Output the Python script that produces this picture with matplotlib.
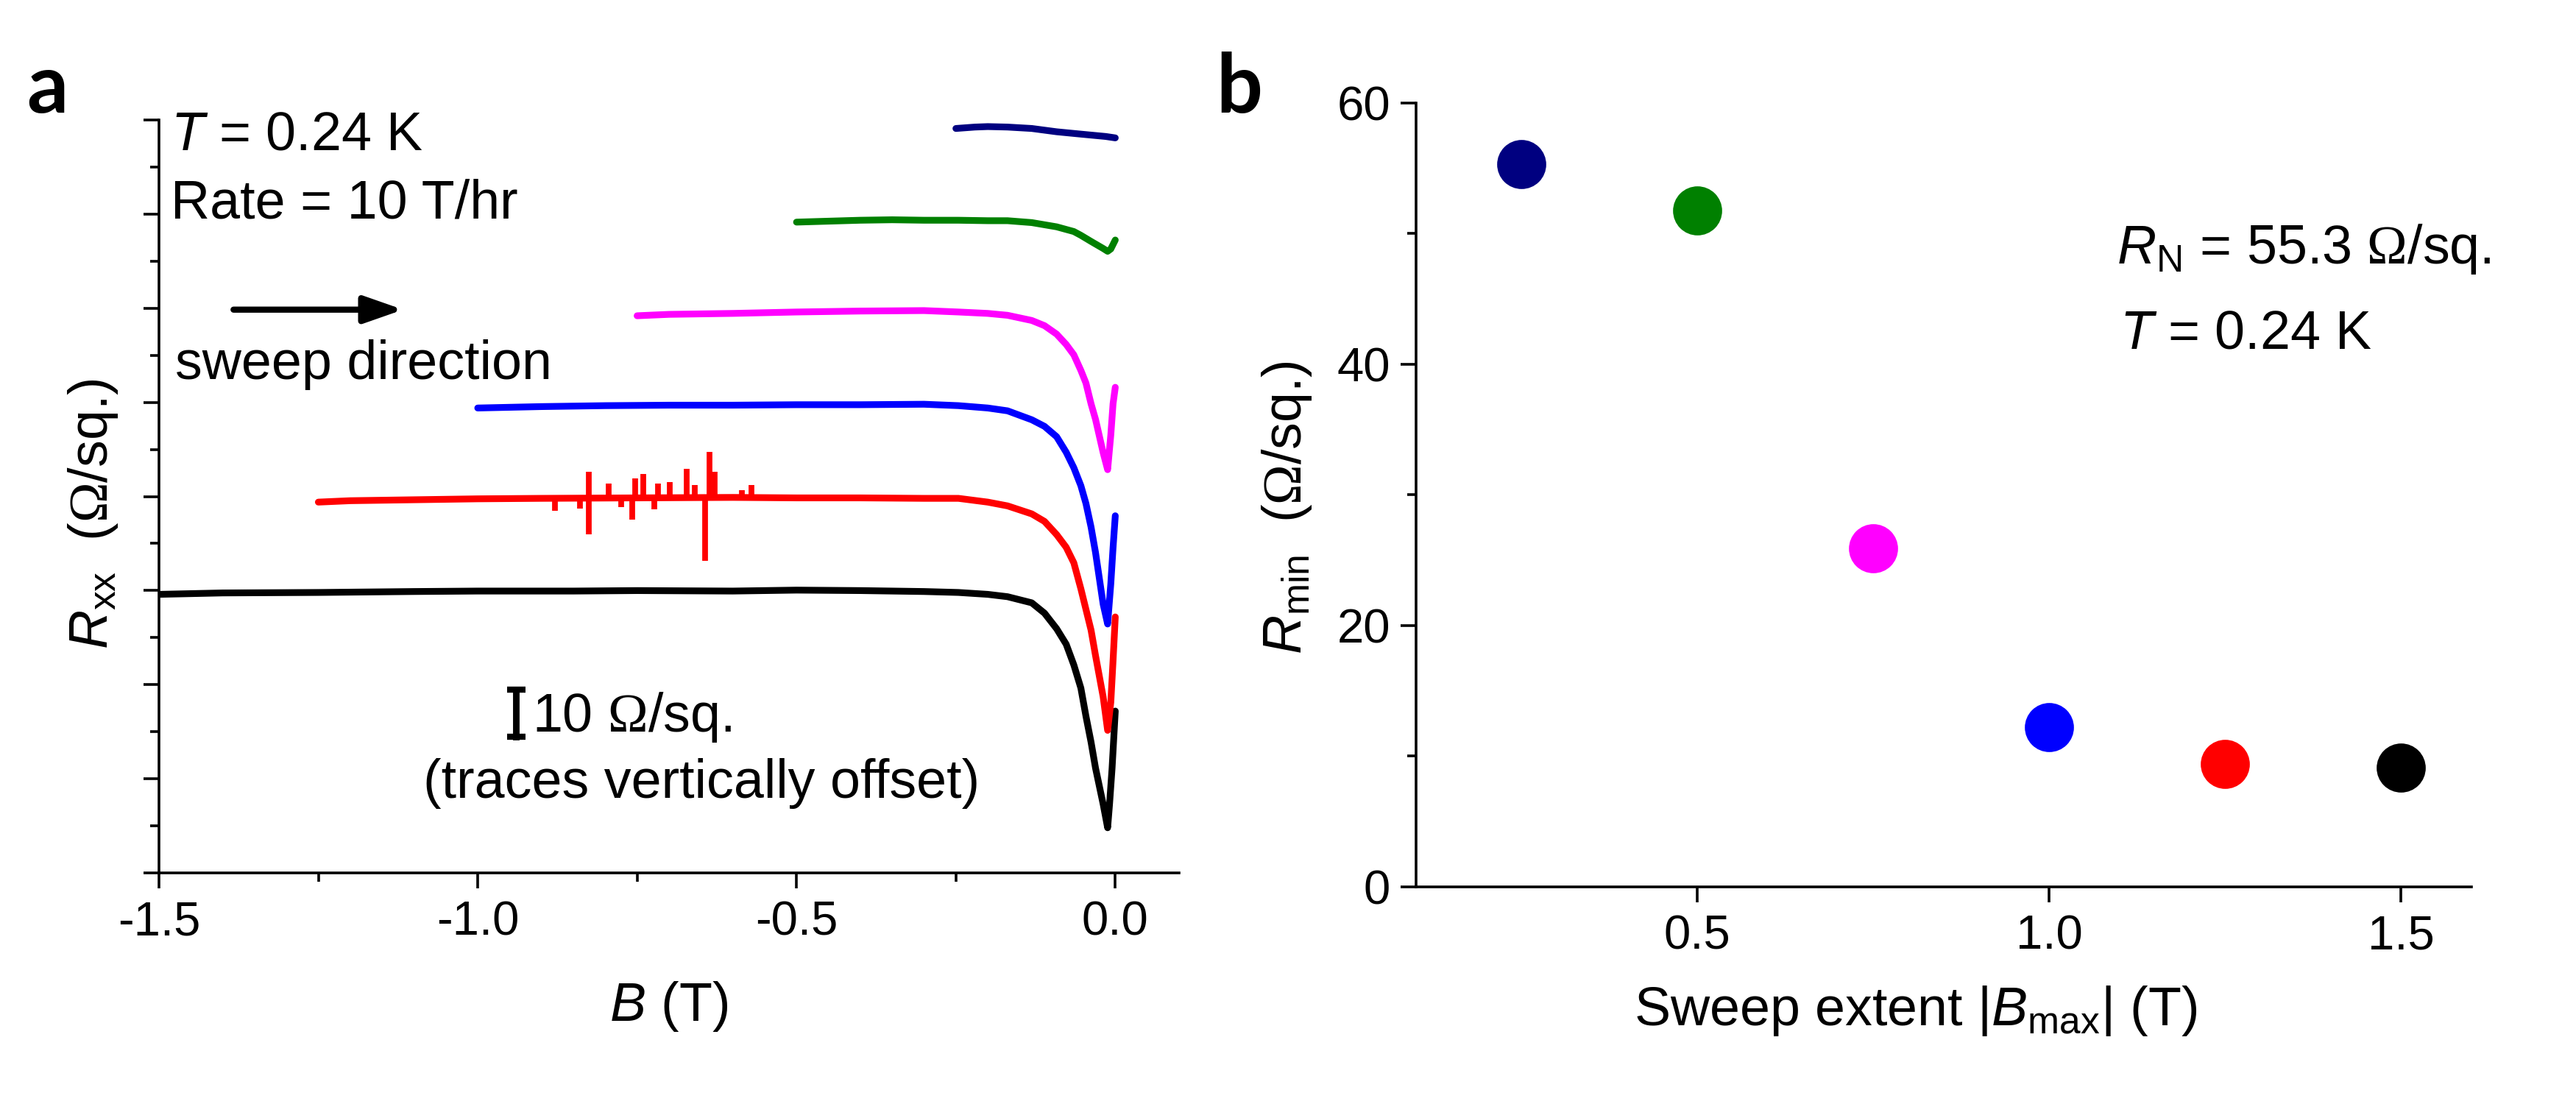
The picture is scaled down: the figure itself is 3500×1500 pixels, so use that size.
import numpy as np
import matplotlib
matplotlib.use("Agg")
import matplotlib.pyplot as plt
from matplotlib.ticker import MultipleLocator, FixedLocator, NullFormatter

# ---- panel a: Rxx traces (drop from plateau), vertically offset ----
black_B = [-1.5, -1.4, -1.25, -1.1, -1.0, -0.85, -0.75, -0.6, -0.5, -0.4, -0.3, -0.246, -0.2,
           -0.169, -0.131, -0.111, -0.092, -0.077, -0.065, -0.054, -0.046, -0.038, -0.031,
           -0.019, -0.012, -0.009, -0.005, 0.0]
black_dR = [-0.4, -0.1, 0.0, 0.2, 0.3, 0.3, 0.4, 0.3, 0.5, 0.4, 0.2, 0.0, -0.4,
            -0.9, -2.2, -4.4, -7.7, -11.0, -15.4, -20.3, -26.3, -31.8, -37.3,
            -45.0, -50.0, -45.0, -37.3, -25.2]

red_B = [-1.25, -1.2, -1.1, -1.0, -0.9, -0.75, -0.6, -0.5, -0.4, -0.3, -0.246, -0.2,
         -0.169, -0.131, -0.111, -0.092, -0.077, -0.065, -0.054, -0.046, -0.038, -0.031,
         -0.019, -0.012, -0.007, -0.0035, 0.0]
red_dR = [-0.8, -0.5, -0.3, -0.1, 0.0, 0.1, 0.2, 0.1, 0.1, 0.0, 0.0, -0.8,
          -1.6, -3.3, -4.9, -7.7, -10.4, -13.7, -19.2, -23.6, -28.0, -33.4,
          -42.2, -49.3, -43.3, -34.5, -25.2]
# glitches on the red trace (position, height)
spike_B = [-0.879, -0.840, -0.826, -0.826, -0.795, -0.775, -0.758, -0.753, -0.740, -0.723,
           -0.717, -0.699, -0.672, -0.660, -0.643, -0.637, -0.628, -0.586, -0.571]
spike_dR = [-2.7, -2.1, 5.6, -7.6, 3.1, -1.8, -4.5, 4.2, 5.2, -2.4,
            3.1, 3.4, 6.2, 2.9, -13.2, 9.9, 5.7, 1.8, 2.9]

blue_B = [-1.0, -0.9, -0.8, -0.7, -0.6, -0.5, -0.4, -0.3, -0.246, -0.2, -0.169, -0.131,
          -0.111, -0.092, -0.077, -0.065, -0.054, -0.046, -0.038, -0.031, -0.019, -0.012,
          -0.007, -0.0035, 0.0]
blue_dR = [-0.5, -0.2, 0.0, 0.1, 0.1, 0.2, 0.2, 0.3, 0.0, -0.5, -1.1, -3.0,
           -4.4, -6.6, -9.9, -13.2, -17.0, -20.8, -25.8, -31.2, -42.2, -46.4,
           -37.8, -30.2, -23.4]

mag_B = [-0.75, -0.7, -0.6, -0.5, -0.4, -0.3, -0.246, -0.2, -0.169, -0.131, -0.111, -0.092,
         -0.077, -0.065, -0.054, -0.046, -0.038, -0.031, -0.019, -0.012, -0.007, -0.0035, 0.0]
mag_dR = [-0.8, -0.5, -0.3, 0.0, 0.2, 0.3, 0.0, -0.3, -0.7, -1.8, -2.9, -4.7,
          -6.9, -9.1, -12.4, -15.1, -19.5, -22.8, -29.9, -33.5, -26.1, -19.5, -16.0]

green_B = [-0.5, -0.45, -0.4, -0.35, -0.3, -0.246, -0.2, -0.169, -0.131, -0.092, -0.065,
           -0.054, -0.038, -0.019, -0.012, -0.007, 0.0]
green_dR = [-0.3, -0.1, 0.1, 0.2, 0.1, 0.1, 0.0, 0.0, -0.4, -1.3, -2.3,
            -3.1, -4.4, -5.9, -6.5, -6.0, -4.1]

navy_B = [-0.25, -0.22, -0.2, -0.169, -0.131, -0.092, -0.054, -0.015, 0.0]
navy_dR = [0.0, 0.3, 0.4, 0.3, 0.0, -0.7, -1.2, -1.7, -2.0]

trace_B = [black_B, red_B, blue_B, mag_B, green_B, navy_B]
trace_dR = [black_dR, red_dR, blue_dR, mag_dR, green_dR, navy_dR]
trace_offset = [59.6, 79.6, 99.3, 119.2, 138.6, 158.2]
colors = ["black", "#ff0000", "#0000ff", "#ff00ff", "#008000", "#000080"]

# ---- panel b ----
bmax = [0.25, 0.5, 0.75, 1.0, 1.25, 1.5]
rmin = [55.3, 51.8, 25.9, 12.2, 9.4, 9.1]
bmax_colors = ["#000080", "#008000", "#ff00ff", "#0000ff", "#ff0000", "black"]

plt.rcParams.update({
    "font.family": "Liberation Sans",
    "mathtext.fontset": "custom",
    "mathtext.rm": "Liberation Sans",
    "mathtext.it": "Liberation Sans:italic",
    "mathtext.sf": "Liberation Serif",
    "axes.unicode_minus": False,
    "axes.linewidth": 1.3,
})
OHM = r"$\mathsf{\Omega}$"
fs_tick = 23.5
fs_text = 26.5

fig = plt.figure(figsize=(17.5, 7.5), dpi=200)
ax1 = fig.add_axes([0.0617, 0.2093, 0.396, 0.682])
ax2 = fig.add_axes([0.5497, 0.1967, 0.4097, 0.71])

for B, dR, off, c in zip(trace_B, trace_dR, trace_offset, colors):
    ax1.plot(B, np.array(dR) + off, color=c, lw=3.3, solid_joinstyle="round",
             solid_capstyle="round")
ax1.vlines(spike_B, trace_offset[1], trace_offset[1] + np.array(spike_dR),
           color="#ff0000", lw=2.8)

ax1.set_xlim(-1.5, 0.1)
ax1.set_ylim(0, 160)
ax1.xaxis.set_major_locator(MultipleLocator(0.5))
ax1.xaxis.set_minor_locator(MultipleLocator(0.25))
ax1.yaxis.set_major_locator(MultipleLocator(20))
ax1.yaxis.set_minor_locator(MultipleLocator(10))
ax1.yaxis.set_major_formatter(NullFormatter())
ax1.set_xlabel(r"$B$ (T)", fontsize=fs_text, labelpad=17)
ax1.set_ylabel(r"$R_{\mathrm{xx}}$  (" + OHM + "/sq.)", fontsize=fs_text)
ax1.yaxis.set_label_coords(-0.038, 0.477)

# annotations
ax1.text(-1.482, 153.6, r"$T$ = 0.24 K", fontsize=fs_text, va="baseline")
ax1.text(-1.482, 139.2, "Rate = 10 T/hr", fontsize=fs_text, va="baseline")
ax1.annotate("", xy=(-1.117, 119.7), xytext=(-1.383, 119.7),
             arrowprops=dict(arrowstyle="-|>,head_length=0.4,head_width=0.14",
                             lw=3, color="black", mutation_scale=40,
                             shrinkA=0, shrinkB=0))
ax1.text(-1.475, 105, "sweep direction", fontsize=fs_text, va="baseline")
ax1.plot([-0.94, -0.94], [29, 39], color="black", lw=3.2, marker="_", ms=9, mew=3)
ax1.text(-0.915, 30, "10 " + OHM + "/sq.", fontsize=fs_text, va="baseline")
ax1.text(-1.085, 16, "(traces vertically offset)", fontsize=fs_text, va="baseline")

# panel b
for x, y, c in zip(bmax, rmin, bmax_colors):
    ax2.plot(x, y, "o", ms=23, color=c, mec=c)
ax2.set_xlim(0.1, 1.6)
ax2.set_ylim(0, 60)
ax2.xaxis.set_major_locator(FixedLocator([0.5, 1.0, 1.5]))
ax2.yaxis.set_major_locator(MultipleLocator(20))
ax2.yaxis.set_minor_locator(MultipleLocator(10))
ax2.set_xlabel(r"Sweep extent |$B_{\mathrm{max}}$| (T)", fontsize=fs_text)
ax2.xaxis.set_label_coords(0.4735, -0.124)
ax2.set_ylabel(r"$R_{\mathrm{min}}$  (" + OHM + "/sq.)", fontsize=fs_text)
ax2.yaxis.set_label_coords(-0.097, 0.4836)
ax2.text(1.096, 47.7, r"$R_{\mathrm{N}}$ = 55.3 " + OHM + "/sq.", fontsize=fs_text,
         va="baseline")
ax2.text(1.10, 41.2, r"$T$ = 0.24 K", fontsize=fs_text, va="baseline")

for ax in (ax1, ax2):
    ax.spines["top"].set_visible(False)
    ax.spines["right"].set_visible(False)
    ax.tick_params(which="major", direction="out", length=7.5, width=1.3,
                   labelsize=fs_tick, pad=6)
    ax.tick_params(which="minor", direction="out", length=4.2, width=1.3)
ax2.tick_params(axis="y", which="major", pad=5)

fig.text(0.0103, 0.898, "a", fontsize=40, fontweight="bold",
         family=["Liberation Sans Narrow", "Lato"])
fig.text(0.472, 0.898, "b", fontsize=40, fontweight="bold",
         family=["Liberation Sans Narrow", "Lato"])

fig.savefig("out.png", dpi=200)
